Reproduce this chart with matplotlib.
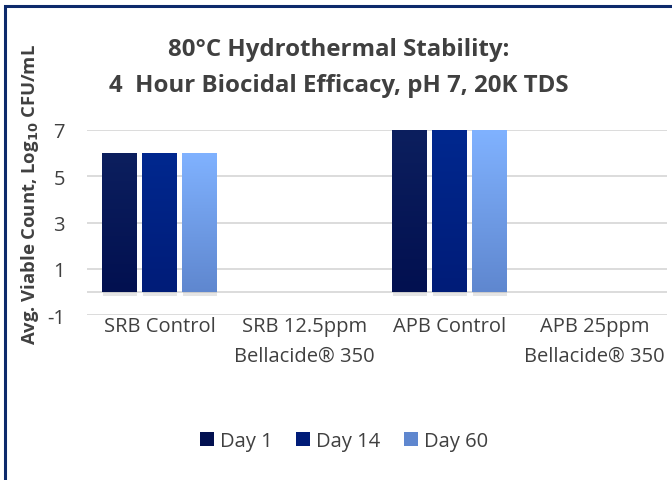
import matplotlib
matplotlib.use("Agg")
import matplotlib.pyplot as plt
import numpy as np
from matplotlib.patches import Rectangle
import matplotlib.patheffects as pe
from matplotlib.colors import LinearSegmentedColormap

categories = ["SRB Control", "SRB 12.5ppm\nBellacide® 350", "APB Control", "APB 25ppm\nBellacide® 350"]
series = ["Day 1", "Day 14", "Day 60"]
day1 = [6, 0, 7, 0]
day14 = [6, 0, 7, 0]
day60 = [6, 0, 7, 0]
yticks = [-1, 1, 3, 5, 7]
values = [day1, day14, day60]
# gradient colors (top, bottom)
grads = [("#0c1f5e", "#021050"), ("#00288f", "#001c78"), ("#80b2ff", "#5f87cf")]

plt.rcParams['font.family'] = ['Open Sans', 'DejaVu Sans']
W, H = 672, 481
fig = plt.figure(figsize=(W/100, H/100), dpi=100)
ax = fig.add_axes([87/W, 1-316/H, (667-87)/W, (316-131)/H])

x = np.arange(len(categories))
bw = 0.235
off = 0.276
txtc = "#404040"
for i, (vals, (ct, cb)) in enumerate(zip(values, grads)):
    pos = x + (i-1)*off
    bars = ax.bar(pos, vals, width=bw, color=cb, label=series[i], zorder=3,
                  path_effects=[pe.SimplePatchShadow(offset=(0.5, -3), shadow_rgbFace='#999999', alpha=0.25), pe.Normal()])
    cmap = LinearSegmentedColormap.from_list("g%d" % i, [cb, ct])
    grad = np.linspace(0, 1, 256).reshape(-1, 1)
    for b in bars:
        h = b.get_height()
        if h <= 0:
            continue
        bx, by = b.get_x(), b.get_y()
        im = ax.imshow(grad, cmap=cmap, origin='lower', aspect='auto',
                       extent=[bx, bx+b.get_width(), by, by+h], zorder=4)
        im.set_clip_path(b)

ax.set_xlim(-0.5, len(categories)-0.5)
ax.set_ylim(-1, 7)
for yv in [-1, 0, 1, 3, 5, 7]:
    ax.axhline(yv, color="#d9d9d9", lw=1.3, zorder=1)
ax.set_yticks(yticks)
ax.set_yticklabels([str(v) for v in yticks], fontsize=14.5, color=txtc)
ax.set_xticks(x)
ax.set_xticklabels(categories, fontsize=14.5, color=txtc, linespacing=1.65)
ax.tick_params(axis='both', length=0)
ax.tick_params(axis='x', pad=1)
ax.tick_params(axis='y', pad=16)
for s in ax.spines.values():
    s.set_visible(False)

fig.text(0.5 + 3/W, 1-56/H, "80°C Hydrothermal Stability:", ha='center', va='baseline',
         fontsize=17.3, fontweight='bold', color=txtc)
fig.text(0.5 + 3/W, 1-92/H, "4  Hour Biocidal Efficacy, pH 7, 20K TDS", ha='center', va='baseline',
         fontsize=17.3, fontweight='bold', color=txtc)
fig.text(30/W, 1-195/H, r"Avg. Viable Count, Log$_{\mathbf{10}}$ CFU/mL", rotation=90, ha='center', va='center',
         fontsize=13.3, fontweight='bold', color=txtc)

handles, labels = ax.get_legend_handles_labels()
leg = fig.legend(handles, labels, loc='center', bbox_to_anchor=(344/W, 1-442/H), ncol=3, frameon=False,
                 fontsize=14.5, handlelength=0.7, handleheight=0.7, handletextpad=0.3, columnspacing=1.15)
for t in leg.get_texts():
    t.set_color(txtc)
for hnd, (ct, cb) in zip(leg.legend_handles, grads):
    hnd.set_path_effects([])
    hnd.set_facecolor(cb)

fig.patches.append(Rectangle((5/W, -0.1), 1.2, 1-7/H+0.1, transform=fig.transFigure, fill=False,
                             edgecolor="#0d2a6b", lw=2.2, zorder=10))

fig.savefig("out.png", dpi=100)
